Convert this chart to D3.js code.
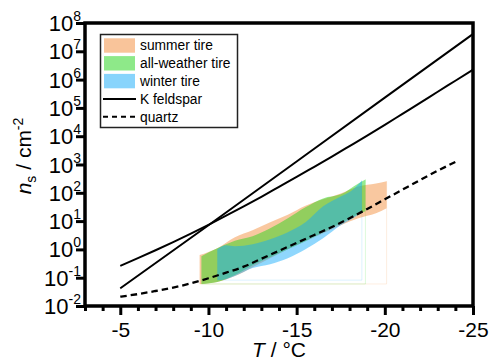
<!DOCTYPE html>
<html>
<head>
<meta charset="utf-8">
<script src="https://cdn.jsdelivr.net/npm/d3@7"></script>
<style>
  body { margin: 0; background: #fff; }
  svg text { font-family: "Liberation Sans", Arial, sans-serif; fill: #000; }
</style>
</head>
<body>
<svg class="chart" width="492" height="361"></svg>
<script>
// tire dust data: temperature (degC) with upper and lower edges of the n_s range
var summerT = [-9.5, -10.5, -11.5, -12.5, -13.5, -14.5, -15.5, -16.5, -17.5, -18.5, -19.5, -20.1];
var summerUpper = [0.63, 1.10, 2.69, 4.75, 9.1, 16.7, 34.6, 58.6, 95, 168, 214, 258];
var summerLower = [0.060, 0.070, 0.114, 0.236, 0.49, 1.02, 1.94, 3.72, 7.1, 12.6, 18.8, 28.2];

var allWeatherT = [-9.6, -10.5, -11.5, -12.5, -13.5, -14.5, -15.5, -16.5, -17.5, -18.5, -18.9];
var allWeatherUpper = [0.577, 1.10, 2.02, 2.92, 5.57, 12.6, 30.6, 63.5, 88, 214, 296];
var allWeatherLower = [0.060, 0.070, 0.124, 0.278, 0.531, 1.02, 1.94, 4.04, 8.4, 17.3, 22.1];

var winterT = [-10.5, -11.0, -11.5, -12.5, -13.5, -14.5, -15.5, -16.5, -17.5, -18.2, -18.7];
var winterUpper = [1.02, 1.41, 1.30, 1.52, 2.29, 4.04, 9.1, 33.2, 74.6, 132, 274];
var winterLower = [0.082, 0.089, 0.114, 0.218, 0.301, 0.49, 1.02, 2.48, 7.1, 12.6, 20.4];

// reference parameterizations
var feldsparAT = [-5, -10, -15, -20, -25];
var feldsparA = [0.042, 7.1, 1280, 230000, 41000000];

var feldsparBT = [-5, -6, -7, -8, -9, -10, -11, -12, -13, -14, -15, -16, -17, -18, -19, -20, -21, -22, -23, -24, -25];
var feldsparB = [0.263, 0.490, 0.933, 1.82, 3.63, 7.41, 15.5, 33.1, 72.4, 162, 363, 832, 1910, 4470, 10500, 25100, 61700, 151000, 372000, 912000, 2240000];

var quartzT = [-5, -6, -7, -8, -9, -10, -11, -12, -13, -14, -15, -16, -17, -18, -19, -20, -21, -22, -23, -24];
var quartz = [0.0214, 0.0263, 0.0339, 0.0447, 0.0631, 0.0955, 0.151, 0.245, 0.468, 0.891, 1.70, 3.24, 6.17, 12.6, 26.9, 58.9, 129, 282, 603, 1230];

var xTicks = [-5, -10, -15, -20, -25];
var xMinorTicks = [-3, -4, -6, -7, -8, -9, -11, -12, -13, -14, -16, -17, -18, -19, -21, -22, -23, -24];
var yTickExps = [-2, -1, 0, 1, 2, 3, 4, 5, 6, 7, 8];

var legendLabels = ["summer tire", "all-weather tire", "winter tire", "K feldspar", "quartz"];
var bandColors = ["#f38a36", "#1ed414", "#12a9fa"];

(function () {
    var svg = d3.select("svg.chart");
    var left = 85, right = 473, top = 23, bottom = 306;

    var x = d3.scaleLinear().domain([-3, -25]).range([left, right]);
    var y = d3.scaleLog().domain([1e-2, 1e8]).range([bottom, top]);

    /*
        Bands
    */
    var bands = [
        { t: summerT, hi: summerUpper, lo: summerLower, color: bandColors[0] },
        { t: allWeatherT, hi: allWeatherUpper, lo: allWeatherLower, color: bandColors[1] },
        { t: winterT, hi: winterUpper, lo: winterLower, color: bandColors[2] }
    ];
    bands.forEach(function (b) {
        b.points = b.t.map(function (t, i) { return { t: t, hi: b.hi[i], lo: b.lo[i] }; });
    });

    var area = d3.area()
        .x(function (d) { return x(d.t); })
        .y0(function (d) { return y(d.lo); })
        .y1(function (d) { return y(d.hi); })
        .curve(d3.curveMonotoneX);

    var bandG = svg.append("g").attr("class", "bands");
    // faint outline down to the lowest value, as in the original export
    bandG.selectAll("path.frame").data(bands).enter().append("path")
        .attr("class", "frame")
        .attr("fill", "none")
        .attr("stroke", function (d) { return d.color; })
        .attr("stroke-opacity", 0.15)
        .attr("stroke-width", 1)
        .attr("d", function (d) {
            var n = d.t.length - 1;
            var base = y(d3.min(d.lo));
            return "M" + x(d.t[n]) + "," + y(d.hi[n]) + "V" + base + "H" + x(d.t[0]);
        });
    bandG.selectAll("path.band").data(bands).enter().append("path")
        .attr("class", "band")
        .attr("fill", function (d) { return d.color; })
        .attr("fill-opacity", 0.47)
        .attr("d", function (d) { return area(d.points); });

    /*
        Lines
    */
    var line = d3.line()
        .x(function (d) { return x(d[0]); })
        .y(function (d) { return y(d[1]); })
        .curve(d3.curveMonotoneX);
    var lines = [
        { pts: d3.zip(feldsparAT, feldsparA), dash: null, w: 2 },
        { pts: d3.zip(feldsparBT, feldsparB), dash: null, w: 2 },
        { pts: d3.zip(quartzT, quartz), dash: "6.5,4", w: 2.3 }
    ];
    svg.append("g").selectAll("path").data(lines).enter().append("path")
        .attr("fill", "none")
        .attr("stroke", "black")
        .attr("stroke-width", function (d) { return d.w; })
        .attr("stroke-dasharray", function (d) { return d.dash; })
        .attr("d", function (d) { return line(d.pts); });

    /*
        Axes
    */
    var xMinor = svg.append("g")
        .attr("transform", "translate(0," + bottom + ")")
        .call(d3.axisBottom(x).tickValues(xMinorTicks).tickSize(5).tickFormat(""));
    var xMajor = svg.append("g")
        .attr("transform", "translate(0," + bottom + ")")
        .call(d3.axisBottom(x).tickValues(xTicks).tickSize(9).tickPadding(7)
            .tickFormat(function (d) { return String(d); }));
    var yAxis = svg.append("g")
        .attr("transform", "translate(" + left + ",0)")
        .call(d3.axisLeft(y).tickValues(yTickExps.map(function (e) { return Math.pow(10, e); }))
            .tickSize(9).tickFormat(""));

    [xMinor, xMajor, yAxis].forEach(function (g) {
        g.select(".domain").remove();
        g.selectAll(".tick line").attr("stroke", "black").attr("stroke-width", 3);
    });
    xMajor.selectAll(".tick text")
        .attr("font-size", 21)
        .attr("font-family", "Liberation Sans, Arial, sans-serif");

    // y tick labels as 10^n
    var yLabels = svg.append("g").selectAll("text").data(yTickExps).enter().append("text")
        .attr("x", left - 4)
        .attr("y", function (d) { return y(Math.pow(10, d)) + 8; })
        .attr("text-anchor", "end")
        .attr("font-size", 22);
    yLabels.append("tspan").text("10");
    yLabels.append("tspan")
        .attr("font-size", 14)
        .attr("dy", -10)
        .text(function (d) { return String(d); });

    // frame
    svg.append("rect")
        .attr("x", left)
        .attr("y", top)
        .attr("width", right - left)
        .attr("height", bottom - top)
        .attr("fill", "none")
        .attr("stroke", "black")
        .attr("stroke-width", 3.5);

    // axis titles
    var xTitle = svg.append("text")
        .attr("x", (left + right) / 2)
        .attr("y", 357)
        .attr("text-anchor", "middle")
        .attr("font-size", 21);
    xTitle.append("tspan").attr("font-style", "italic").text("T");
    xTitle.append("tspan").text(" / °C");

    var yTitle = svg.append("text")
        .attr("transform", "translate(31,156) rotate(-90)")
        .attr("text-anchor", "middle")
        .attr("font-size", 21);
    yTitle.append("tspan").attr("font-style", "italic").text("n");
    yTitle.append("tspan").attr("font-size", 14).attr("dy", 5).text("s");
    yTitle.append("tspan").attr("dy", -5).text(" / cm");
    yTitle.append("tspan").attr("font-size", 14).attr("dy", -8).text("-2");

    /*
        Legend
    */
    var legend = svg.append("g").attr("class", "legend");
    legend.append("rect")
        .attr("x", 100.5).attr("y", 34.5)
        .attr("width", 137).attr("height", 93)
        .attr("fill", "white")
        .attr("stroke", "#222")
        .attr("stroke-width", 1.5);
    var rowY = function (i) { return 45.5 + i * 17.8; };
    var rows = legend.selectAll("g.row").data(legendLabels).enter().append("g")
        .attr("class", "row")
        .attr("transform", function (d, i) { return "translate(0," + rowY(i) + ")"; });
    rows.filter(function (d, i) { return i < 3; }).append("rect")
        .attr("x", 104).attr("y", -7.2)
        .attr("width", 31).attr("height", 14.4)
        .attr("fill", function (d, i) { return bandColors[i]; })
        .attr("fill-opacity", 0.5);
    rows.filter(function (d, i) { return i >= 3; }).append("line")
        .attr("x1", 103).attr("x2", 136)
        .attr("stroke", "black")
        .attr("stroke-width", 2)
        .attr("stroke-dasharray", function (d, i) { return i === 1 ? "5,4" : null; });
    rows.append("text")
        .attr("x", 140)
        .attr("dy", "0.36em")
        .attr("font-size", 13.8)
        .text(function (d) { return d; });
})();
</script>
</body>
</html>
